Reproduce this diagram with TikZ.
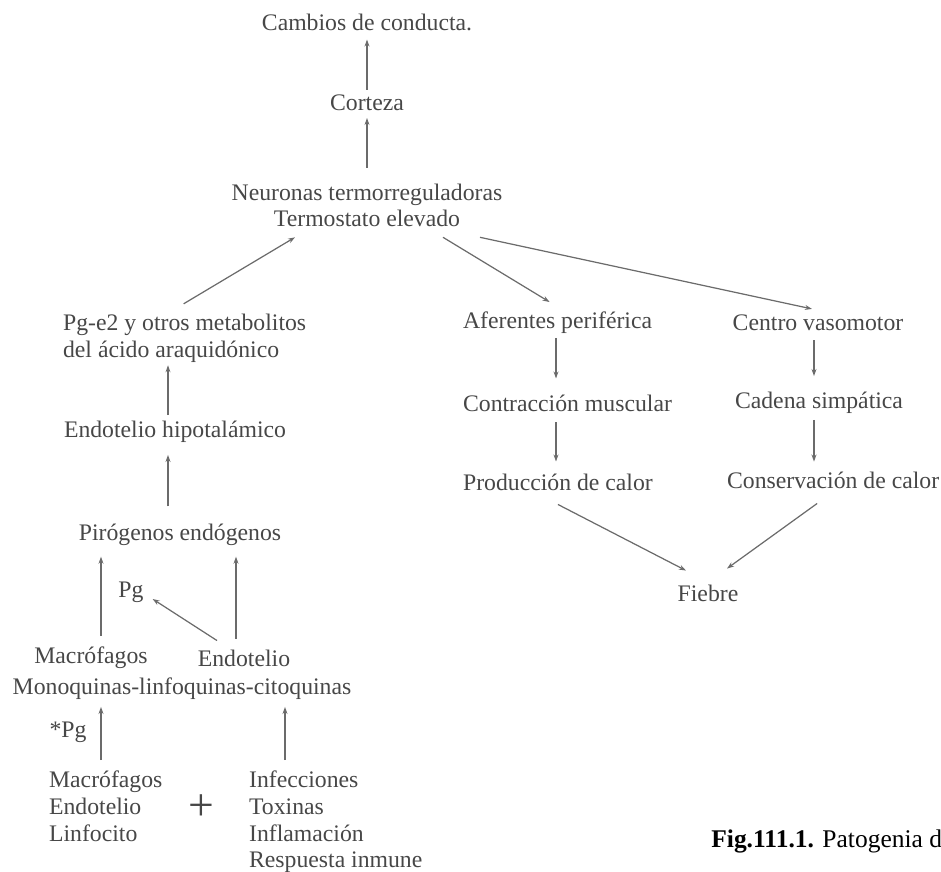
\documentclass[tikz,border=0pt]{standalone}
\usepackage{fontspec}
\setmainfont{Liberation Serif}
\usetikzlibrary{arrows.meta}
\begin{document}
\begin{tikzpicture}[x=0.02cm, y=-0.02cm,
  >={Stealth[length=4pt,width=2.8pt]},
  texto/.style={text=black!72, inner sep=1pt, font=\fontsize{13.5}{15.2}\selectfont},
  flecha/.style={->, draw=black!58, line width=0.7pt}]
  \useasboundingbox (0,0) rectangle (941,872);
  % columna central
  \node[texto] (cambios) at (367,22) {Cambios de conducta.};
  \node[texto] (corteza) at (367,103) {Corteza};
  \node[texto, align=center] (neuronas) at (367,205.5)
    {Neuronas termorreguladoras\\Termostato elevado};
  % rama izquierda
  \node[texto, align=left, anchor=west] (pge2) at (61,338)
    {Pg-e2 y otros metabolitos\\del ácido araquidónico};
  \node[texto] (endohip) at (175,432) {Endotelio hipotalámico};
  \node[texto] (pirogenos) at (180,535) {Pirógenos endógenos};
  \node[texto] (pg) at (131,592) {Pg};
  \node[texto] (macrofagos) at (91,658) {Macrófagos};
  \node[texto] (endotelio) at (244,658) {Endotelio};
  \node[texto] (monoquinas) at (182,689) {Monoquinas-linfoquinas-citoquinas};
  \node[texto] (asterisco) at (68,732) {*Pg};
  \node[texto, align=left, anchor=north west] (celulas) at (47,769)
    {Macrófagos\\Endotelio\\Linfocito};
  \node[texto, font=\fontsize{26}{26}\selectfont] (mas) at (201,808) {+};
  \node[texto, align=left, anchor=north west] (causas) at (247,769)
    {Infecciones\\Toxinas\\Inflamación\\Respuesta inmune};
  % rama derecha
  \node[texto, anchor=west] (aferentes) at (461,323) {Aferentes periférica};
  \node[texto, anchor=west] (contraccion) at (461,403) {Contracción muscular};
  \node[texto, anchor=west] (produccion) at (461,482) {Producción de calor};
  \node[texto] (centro) at (818,323) {Centro vasomotor};
  \node[texto] (cadena) at (819,403) {Cadena simpática};
  \node[texto, anchor=west] (conservacion) at (725,480) {Conservación de calor};
  \node[texto] (fiebre) at (708,593) {Fiebre};
  % pie de figura
  \node[anchor=base west, inner sep=0pt, font=\fontsize{14.5}{16}\selectfont]
    (pie) at (711,847) {\textbf{Fig.111.1.} Patogenia de la fiebre.};

  % columnas de las flechas verticales
  \coordinate (colA) at (168,0);
  \coordinate (colB) at (101,0);
  \coordinate (colC) at (236,0);
  \coordinate (colD) at (285,0);
  \coordinate (colE) at (556,0);
  \coordinate (colF) at (814,0);

  % flechas columna central
  \draw[flecha, shorten <=1.7pt, shorten >=4pt] (corteza.north) -- (cambios.south);
  \draw[flecha, shorten <=8pt, shorten >=2.8pt] (neuronas.north) -- (corteza.south);
  \draw[flecha] ([shift={(-1,-8)}]pge2.north) -- ([shift={(-72,8)}]neuronas.south);
  \draw[flecha] ([shift={(76,8)}]neuronas.south) -- ([shift={(-8,-8)}]aferentes.north);
  \draw[flecha] ([shift={(113,8)}]neuronas.south) -- ([shift={(-6,-4)}]centro.north);
  % flechas rama izquierda
  \draw[flecha, shorten <=2.3pt, shorten >=0.6pt] (endohip.north -| colA) -- (pge2.south -| colA);
  \draw[flecha, shorten <=9pt, shorten >=5.7pt] (pirogenos.north -| colA) -- (endohip.south -| colA);
  \draw[flecha, shorten <=5pt, shorten >=5pt] (macrofagos.north -| colB) -- (pirogenos.south -| colB);
  \draw[flecha, shorten <=5pt, shorten >=5pt] (endotelio.north -| colC) -- (pirogenos.south -| colC);
  \draw[flecha] ([shift={(-27,-7)}]endotelio.north) -- ([shift={(7,7)}]pg.east);
  \draw[flecha, shorten <=5pt, shorten >=2.8pt] (celulas.north -| colB) -- (monoquinas.south -| colB);
  \draw[flecha, shorten <=5pt, shorten >=2.8pt] (causas.north -| colD) -- (monoquinas.south -| colD);
  % flechas rama derecha
  \draw[flecha, shorten <=1.1pt, shorten >=8pt] (aferentes.south -| colE) -- (contraccion.north -| colE);
  \draw[flecha, shorten <=5pt, shorten >=5.7pt] (contraccion.south -| colE) -- (produccion.north -| colE);
  \draw[flecha, shorten <=4pt, shorten >=8pt] (centro.south -| colF) -- (cadena.north -| colF);
  \draw[flecha, shorten <=2.3pt, shorten >=4.5pt] (cadena.south -| colF) -- (conservacion.north -| colF);
  \draw[flecha] ([shift={(0,12)}]produccion.south) -- ([shift={(-22,-12)}]fiebre.north);
  \draw[flecha] ([shift={(-16,13)}]conservacion.south) -- ([shift={(19,-14)}]fiebre.north);
\end{tikzpicture}
\end{document}
